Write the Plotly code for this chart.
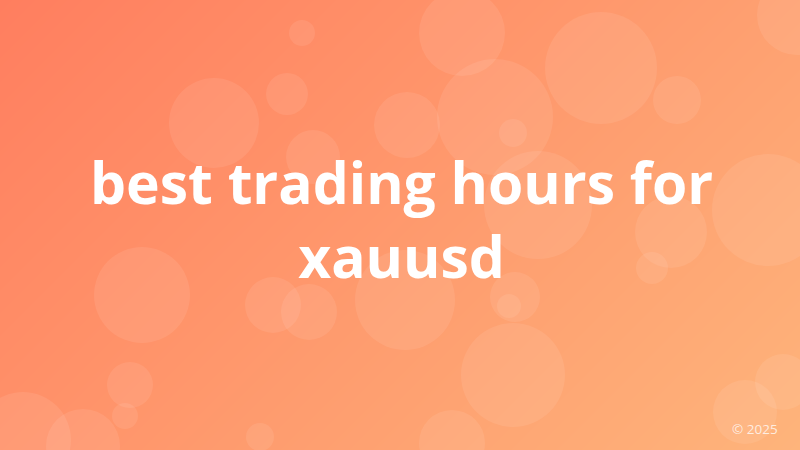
import plotly.graph_objects as go

W, H = 800, 450

# Decorative bubbles: centre x, centre y (pixels), radius (pixels)
bubble_x = [302, 214, 287, 313, 407, 462, 601, 495, 513, 677, 797, 538, 768, 671, 652,
            142, 273, 309, 405, 130, 125, 23, 83, 260, 515, 509, 513, 452, 783, 745]
bubble_y = [33, 123, 94, 157, 125, 33, 68, 117, 133, 100, 15, 205, 210, 232, 268,
            295, 305, 312, 300, 385, 416, 440, 446, 437, 297, 306, 375, 443, 382, 412]
bubble_r = [13, 45, 21, 27, 33, 43, 56, 58, 14, 24, 40, 54, 56, 36, 16,
            48, 28, 28, 50, 23, 13, 48, 37, 14, 25, 12, 52, 33, 28, 32]

title_lines = ["best trading hours for", "xauusd"]
footer_text = "© 2025"

gradient_start = "#ff7e5f"
gradient_end = "#feb47b"

fig = go.Figure()

# 135deg background gradient (bilinear between corners equals x+y ramp)
fig.add_trace(go.Heatmap(
    x=[0, W], y=[0, H],
    z=[[0, W / (W + H)], [H / (W + H), 1]],
    zsmooth="best",
    colorscale=[[0, gradient_start], [1, gradient_end]],
    showscale=False, hoverinfo="skip",
))

fig.add_trace(go.Scatter(
    x=bubble_x, y=bubble_y, mode="markers",
    marker=dict(size=[2 * r for r in bubble_r], sizemode="diameter",
                color="rgba(255,255,255,0.12)", line=dict(width=0)),
    hoverinfo="skip", showlegend=False,
))

fig.add_annotation(
    x=401, y=219, xref="x", yref="y",
    text="<br>".join(title_lines), showarrow=False,
    font=dict(family="Open Sans", size=57, color="white", weight="bold"),
    align="center", xanchor="center", yanchor="middle",
)
fig.add_annotation(
    x=780, y=429, xref="x", yref="y",
    text=footer_text, showarrow=False,
    font=dict(family="Open Sans", size=13.5, color="rgba(255,255,255,0.75)"),
    xanchor="right", yanchor="middle",
)

fig.update_xaxes(range=[0, W], visible=False, fixedrange=True)
fig.update_yaxes(range=[H, 0], visible=False, fixedrange=True)
fig.update_layout(
    width=W, height=H, margin=dict(l=0, r=0, t=0, b=0),
    paper_bgcolor=gradient_start, plot_bgcolor=gradient_start,
    showlegend=False,
)
fig.write_html("out.html", config={"displayModeBar": False},
               post_script="document.body.style.margin='0';document.body.style.overflow='hidden';")
